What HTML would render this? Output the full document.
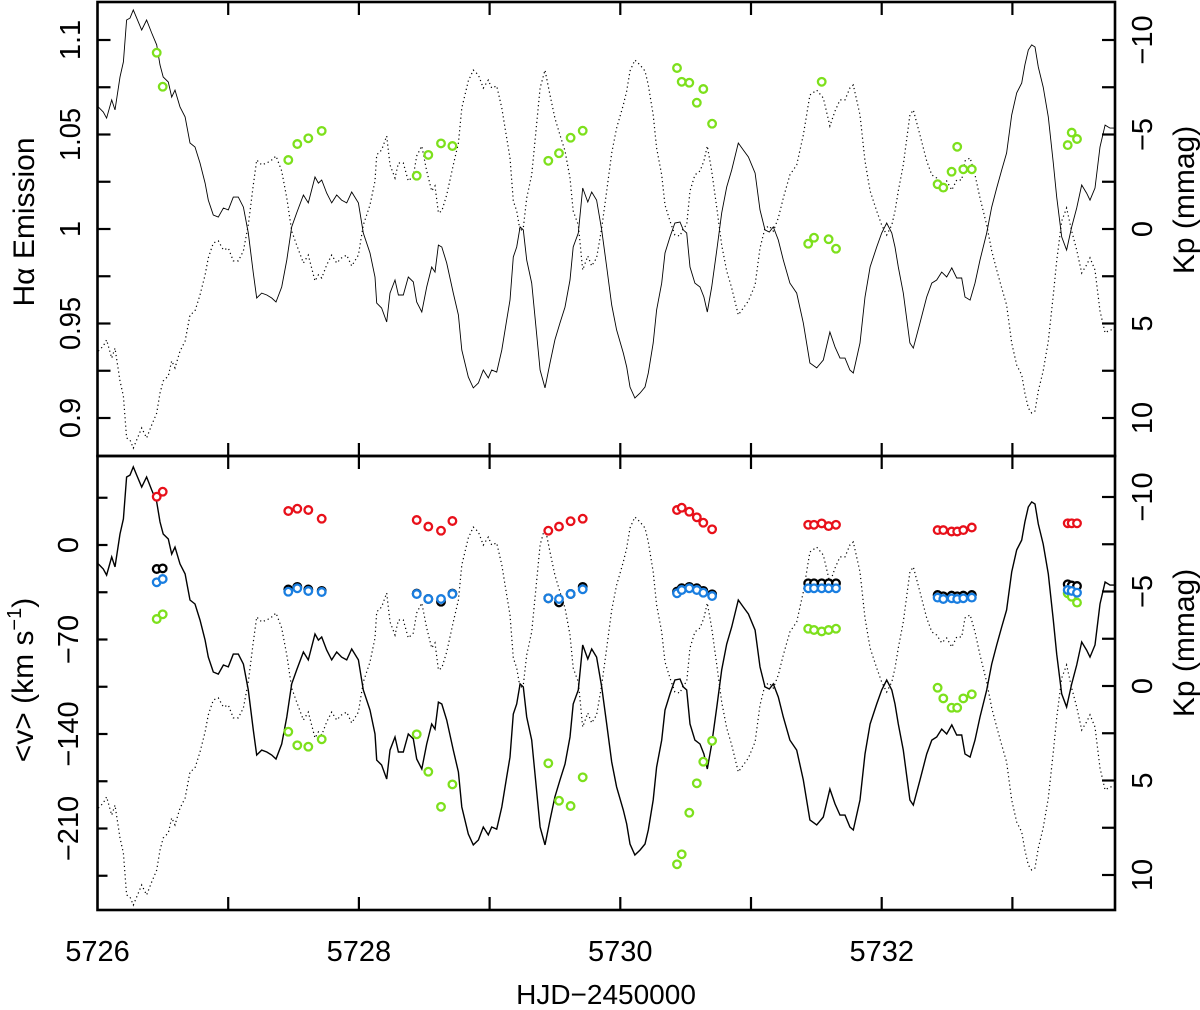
<!DOCTYPE html>
<html><head><meta charset="utf-8"><style>
html,body{margin:0;padding:0;background:#fff;}
svg{display:block;font-family:"Liberation Sans",sans-serif;}
</style></head><body>
<svg id="chart" width="1200" height="1010" viewBox="0 0 1200 1010" xmlns="http://www.w3.org/2000/svg">
<defs>
<clipPath id="clipTop"><rect x="97.5" y="2" width="1017.5" height="454"/></clipPath>
<clipPath id="clipBot"><rect x="97.5" y="456" width="1017.5" height="454"/></clipPath>
</defs>
<g id="gTop"></g>
<g id="gBot"></g>
<g id="gAxes"></g>
<text x="0" y="0" font-size="30" text-anchor="middle" transform="translate(34,222) rotate(-90)">Hα Emission</text>
<text x="0" y="0" font-size="30" text-anchor="middle" transform="translate(33,680) rotate(-90)">&lt;v&gt;  (km s<tspan font-size="20" dy="-12">−1</tspan><tspan dy="12">)</tspan></text>
<text x="0" y="0" font-size="30" text-anchor="middle" transform="translate(1194,200) rotate(-90)">Kp  (mmag)</text>
<text x="0" y="0" font-size="30" text-anchor="middle" transform="translate(1194,643) rotate(-90)">Kp  (mmag)</text>
<text x="606" y="1004" font-size="28" text-anchor="middle">HJD−2450000</text>
</svg>
<script>
// Kepler light curve (HJD-2450000, Kp in mmag)
const hjd = [5726.006,5726.044,5726.070,5726.109,5726.134,5726.172,5726.198,5726.223,5726.249,5726.274,5726.300,5726.338,5726.376,5726.415,5726.453,5726.478,5726.503,5726.542,5726.568,5726.593,5726.631,5726.670,5726.708,5726.746,5726.784,5726.823,5726.848,5726.886,5726.924,5726.963,5727.001,5727.039,5727.077,5727.116,5727.154,5727.192,5727.218,5727.256,5727.295,5727.333,5727.366,5727.409,5727.448,5727.486,5727.524,5727.575,5727.613,5727.664,5727.690,5727.715,5727.754,5727.792,5727.830,5727.868,5727.907,5727.945,5727.996,5728.034,5728.085,5728.123,5728.136,5728.174,5728.213,5728.238,5728.276,5728.302,5728.340,5728.378,5728.416,5728.442,5728.481,5728.519,5728.557,5728.582,5728.608,5728.634,5728.672,5728.722,5728.761,5728.787,5728.837,5728.875,5728.914,5728.952,5728.990,5729.016,5729.054,5729.093,5729.131,5729.156,5729.181,5729.207,5729.233,5729.258,5729.284,5729.322,5729.347,5729.386,5729.424,5729.462,5729.500,5729.539,5729.577,5729.615,5729.640,5729.679,5729.712,5729.751,5729.781,5729.819,5729.858,5729.896,5729.934,5729.972,5730.023,5730.049,5730.074,5730.112,5730.151,5730.189,5730.214,5730.252,5730.278,5730.317,5730.342,5730.380,5730.418,5730.457,5730.482,5730.508,5730.533,5730.571,5730.610,5730.640,5730.666,5730.699,5730.738,5730.776,5730.814,5730.852,5730.903,5730.941,5730.980,5731.031,5731.069,5731.107,5731.140,5731.171,5731.209,5731.247,5731.298,5731.350,5731.400,5731.451,5731.503,5731.553,5731.604,5731.643,5731.681,5731.719,5731.757,5731.783,5731.834,5731.872,5731.911,5731.962,5732.000,5732.038,5732.077,5732.102,5732.127,5732.165,5732.216,5732.242,5732.293,5732.344,5732.383,5732.421,5732.459,5732.497,5732.536,5732.574,5732.612,5732.637,5732.676,5732.714,5732.752,5732.803,5732.842,5732.880,5732.918,5732.956,5732.995,5733.033,5733.071,5733.096,5733.122,5733.148,5733.173,5733.198,5733.236,5733.275,5733.313,5733.339,5733.377,5733.415,5733.454,5733.492,5733.530,5733.568,5733.594,5733.632,5733.670,5733.709,5733.747,5733.785];
const kp = [-6.46,-6.19,-5.87,-6.83,-6.30,-8.04,-8.84,-11.06,-11.16,-11.59,-11.16,-10.53,-11.06,-10.37,-9.74,-8.68,-8.04,-7.78,-6.98,-7.35,-6.46,-5.93,-4.55,-4.34,-3.49,-2.43,-1.53,-0.74,-0.63,-1.11,-1.01,-1.69,-1.69,-1.16,0.21,2.33,3.65,3.39,3.49,3.65,3.86,3.07,1.64,-0.11,-0.85,-1.80,-1.38,-2.75,-2.43,-2.59,-1.90,-1.38,-1.80,-1.53,-1.38,-1.96,-1.38,0.21,1.27,2.54,3.92,4.18,4.92,3.39,2.70,3.49,3.49,2.54,2.80,3.86,4.39,3.07,2.01,2.28,0.85,0.95,1.80,3.39,4.55,6.40,7.83,8.41,8.15,7.46,7.88,7.46,7.57,6.40,4.81,3.76,1.48,0.95,-0.11,0.05,1.64,2.86,4.66,7.46,8.41,7.09,5.87,4.97,4.13,2.70,0.95,0.21,-2.17,-1.43,-1.96,-1.53,0.05,2.01,4.02,5.34,6.56,7.30,8.36,8.94,8.68,8.36,7.62,6.03,4.29,2.86,1.27,0.42,-0.32,-0.37,0.05,0.21,2.01,2.86,3.07,3.60,4.39,3.07,1.11,-0.85,-2.22,-3.12,-4.55,-4.18,-3.81,-2.96,-1.01,0.05,0.16,-0.11,0.58,1.64,2.86,3.39,4.97,7.09,7.35,6.93,5.45,6.24,6.83,6.83,7.46,7.62,6.03,3.60,2.01,0.95,0.21,-0.32,0.21,0.95,2.01,3.39,6.03,6.30,4.97,3.60,2.86,2.70,2.28,2.54,2.06,2.59,2.59,3.60,3.76,2.86,1.64,0.21,-1.16,-2.17,-3.12,-4.02,-6.03,-7.20,-7.72,-8.68,-9.47,-9.74,-9.63,-8.57,-7.51,-5.93,-3.49,-1.69,0.42,1.11,-0.11,-1.11,-2.33,-1.90,-1.53,-2.17,-4.34,-5.50,-5.34,-5.34];
// spectroscopic epochs
const specT = [5726.453,5726.499,5727.460,5727.529,5727.613,5727.715,5728.442,5728.531,5728.628,5728.715,5729.449,5729.531,5729.620,5729.712,5730.434,5730.470,5730.528,5730.585,5730.635,5730.702,5731.438,5731.482,5731.541,5731.594,5731.650,5732.428,5732.471,5732.535,5732.578,5732.624,5732.689,5733.423,5733.454,5733.494];
const haEmission = [1.0933,1.0753,1.0365,1.0450,1.0480,1.0519,1.0282,1.0392,1.0453,1.0439,1.0361,1.0401,1.0483,1.0520,1.0852,1.0779,1.0774,1.0668,1.0741,1.0557,0.9922,0.9954,1.0779,0.9946,0.9896,1.0237,1.0219,1.0303,1.0435,1.0316,1.0316,1.0444,1.0510,1.0476];
const velRed = [35.8,39.5,25.2,26.9,25.9,19.5,18.5,13.6,10.6,17.8,10.6,13.6,17.6,19.5,25.9,27.6,24.7,20.5,16.5,11.6,15,15,16,14,15,11,11,10,10,11,13,16.1,16.1,16.1];
const velBlack = [-17.8,-17.3,-33,-31,-33,-34,-36,-40,-42,-36,-39.5,-42.5,-36.3,-31,-34.5,-32,-31,-32,-34,-36.5,-28.4,-28.4,-28.4,-28.4,-28.4,-37,-38,-37.5,-38,-37.5,-37,-29.1,-30,-30.4];
const velBlue = [-27.6,-25.2,-34.6,-32.1,-34.1,-34.8,-36.3,-40,-40,-36.3,-39.5,-40,-36.3,-32.8,-35.8,-33.3,-32.1,-33.3,-35.3,-37.8,-32.1,-32.1,-32.1,-32.1,-32.1,-39,-40,-39.5,-40,-39.5,-39,-33.3,-34,-35.3];
const velGreen = [-54.8,-51.3,-138.3,-148.4,-149.4,-143.9,-140.2,-167.9,-193.9,-177.3,-161.7,-189.4,-193.3,-172.1,-236.5,-229.1,-198.3,-176.5,-160.5,-145.0,-62,-63,-64,-63,-62,-105.7,-113.6,-120.5,-120.5,-113.6,-110.6,-35.8,-38.3,-42.7];
const xTickLabels = ["5726","5728","5730","5732"];
const haTickLabels = ["0.9","0.95","1","1.05","1.1"];
const velTickLabels = ["−210","−140","−70","0"];
const kpTickLabels = ["10","5","0","−5","−10"];

const NS = "http://www.w3.org/2000/svg";
const X0 = 97.5, X1 = 1115, TOP0 = 2, MID = 456, BOT1 = 910;
function xs(t){ return X0 + (t - 5726) * 130.7; }
function yTopKp(k){ return 229 + 18.9 * k; }
function yHa(h){ return 229 - (h - 1) * 1890; }
function yBotKp(k){ return 686 + 18.9 * k; }
function yVel(v){ return 545 - v * 1.35; }
function mk(tag, attrs, parent){
  const e = document.createElementNS(NS, tag);
  for (const k in attrs) e.setAttribute(k, attrs[k]);
  parent.appendChild(e);
  return e;
}
const gTop = document.getElementById('gTop');
const gBot = document.getElementById('gBot');
const gAxes = document.getElementById('gAxes');

function curve(parent, yf, sign, dotted, clip, name){
  let d = '';
  for (let i = 0; i < hjd.length; i++) d += (i ? 'L' : 'M') + xs(hjd[i]).toFixed(1) + ',' + yf(sign * kp[i]).toFixed(1);
  const p = mk('path', {d: d, fill: 'none', stroke: '#000', 'stroke-width': dotted ? 1.2 : (parent === gTop ? 0.9 : 1.4), 'stroke-dasharray': dotted ? '1.2,3' : 'none', 'clip-path': 'url(#' + clip + ')'}, parent);
  
  
}
curve(gTop, yTopKp, 1, false, 'clipTop', 'top-light-curve-solid');
curve(gTop, yTopKp, -1, true, 'clipTop', 'top-light-curve-dotted');
curve(gBot, yBotKp, 1, false, 'clipBot', 'bottom-light-curve-solid');
curve(gBot, yBotKp, -1, true, 'clipBot', 'bottom-light-curve-dotted');

function dots(parent, vals, yf, color, name, dy){
  for (let i = 0; i < specT.length; i++){
    const c = mk('circle', {cx: xs(specT[i]).toFixed(1), cy: (yf(vals[i]) + (dy||0)).toFixed(1), r: 3.8, fill: '#fff', stroke: color, 'stroke-width': 2.3}, parent);
    
    
  }
}
dots(gTop, haEmission, yHa, '#7de01c', 'halpha-point');
dots(gBot, velGreen, yVel, '#7de01c', 'velocity-green-point');
dots(gBot, velBlack, yVel, '#000', 'velocity-black-point');
dots(gBot, velBlue, yVel, '#1a7ee0', 'velocity-blue-point');
dots(gBot, velRed, yVel, '#e8101a', 'velocity-red-point');

// frames
[[TOP0, MID, 'top-frame'], [MID, BOT1, 'bottom-frame']].forEach(f => {
  const r = mk('rect', {x: X0, y: f[0], width: X1 - X0, height: f[1] - f[0], fill: 'none', stroke: '#000', 'stroke-width': 2.6}, gAxes);
  
  
});
function tick(x1, y1, x2, y2, name){
  const l = mk('line', {x1: x1, y1: y1, x2: x2, y2: y2, stroke: '#000', 'stroke-width': 2.2}, gAxes);
  
  
}
function label(x, y, txt, name, len){
  const t = mk('text', {x: 0, y: 0, 'font-size': 29, 'text-anchor': 'middle', transform: 'translate(' + x + ',' + y + ') rotate(-90)'}, gAxes);
  if (len) { t.setAttribute('textLength', len); t.setAttribute('lengthAdjust', 'spacingAndGlyphs'); }
  t.textContent = txt;
  
  
}
// x ticks
for (let d = 5727; d <= 5733; d++){
  const x = xs(d);
  tick(x, TOP0, x, TOP0 + 13, 'x-tick');
  tick(x, MID, x, MID - 13, 'x-tick');
  tick(x, MID, x, MID + 13, 'x-tick');
  tick(x, BOT1, x, BOT1 - 13, 'x-tick');
}
xTickLabels.forEach(s => {
  const t = mk('text', {x: xs(+s), y: 961, 'font-size': 29, 'text-anchor': 'middle'}, gAxes);
  t.textContent = s;
  
  
});
// top left Halpha ticks
for (let h = 0.9; h <= 1.1001; h += 0.025) tick(X0, yHa(h), X0 + 13, yHa(h), 'halpha-tick');
haTickLabels.forEach(s => label(80, yHa(parseFloat(s)), s, 'halpha-tick-label', s.length > 3 ? 53 : null));
// right Kp ticks both panels
for (let k = -10; k <= 10; k += 2.5){
  tick(X1, yTopKp(k), X1 - 13, yTopKp(k), 'kp-tick-top');
  tick(X1, yBotKp(k), X1 - 13, yBotKp(k), 'kp-tick-bottom');
}
kpTickLabels.forEach(s => {
  const k = parseFloat(s.replace('−', '-'));
  label(1152, yTopKp(k), s, 'kp-tick-label-top');
  label(1152, yBotKp(k), s, 'kp-tick-label-bottom');
});
// bottom left velocity ticks
for (let v = 35; v >= -245; v -= 35) tick(X0, yVel(v), X0 + 10, yVel(v), 'velocity-tick');
velTickLabels.forEach(s => label(78, yVel(parseFloat(s.replace('−', '-'))), s, 'velocity-tick-label'));
</script>
</body></html>
